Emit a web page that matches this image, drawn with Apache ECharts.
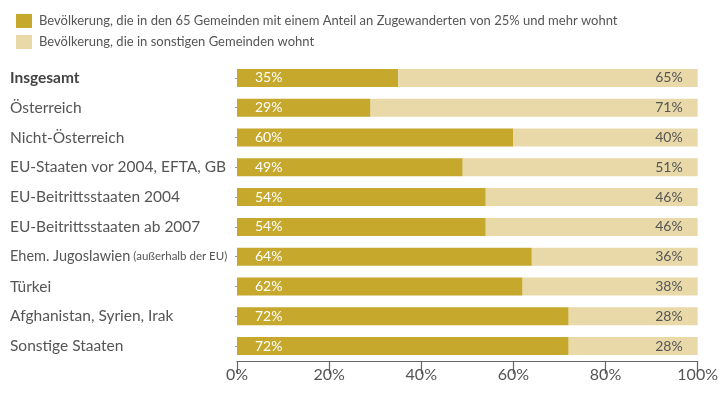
<!DOCTYPE html>
<html>
<head>
<meta charset="utf-8">
<script src="https://cdn.jsdelivr.net/npm/echarts@6/dist/echarts.min.js"></script>
<style>
html,body{margin:0;padding:0;background:#fff;}
#chart{width:721px;height:393px;}
</style>
</head>
<body>
<div id="chart"></div>
<script>
// Herkunftsgruppen (von oben nach unten)
const categories = [
  'Insgesamt',
  'Österreich',
  'Nicht-Österreich',
  'EU-Staaten vor 2004, EFTA, GB',
  'EU-Beitrittsstaaten 2004',
  'EU-Beitrittsstaaten ab 2007',
  'Ehem. Jugoslawien (außerhalb der EU)',
  'Türkei',
  'Afghanistan, Syrien, Irak',
  'Sonstige Staaten'
];
// Anteil in Gemeinden mit mind. 25 % Zugewanderten
const shareHigh = [35, 29, 60, 49, 54, 54, 64, 62, 72, 72];
// Anteil in sonstigen Gemeinden
const shareOther = [65, 71, 40, 51, 46, 46, 36, 38, 28, 28];
const xTicks = [0, 20, 40, 60, 80, 100];
const seriesNames = [
  'Bevölkerung, die in den 65 Gemeinden mit einem Anteil an Zugewanderten von 25% und mehr wohnt',
  'Bevölkerung, die in sonstigen Gemeinden wohnt'
];

const FONT = 'Lato, "Open Sans", sans-serif';
const DARK = '#C6A82C';
const LIGHT = '#E9D9A9';

const chart = echarts.init(document.getElementById('chart'), null, {renderer: 'canvas'});

function yLabel(value) {
  if (value === 'Insgesamt') return '{b|' + value + '}';
  const m = value.match(/^(.*?) (\(.*\))$/);
  if (m) return '{s|' + m[1] + '} {xs|' + m[2] + '}';
  return '{n|' + value + '}';
}

chart.setOption({
  animation: false,
  textStyle: {fontFamily: FONT},
  legend: {
    orient: 'vertical',
    left: 11,
    top: 9,
    itemWidth: 16,
    itemHeight: 14,
    itemGap: 7,
    icon: 'rect',
    data: seriesNames,
    textStyle: {fontFamily: FONT, fontSize: 13, color: '#555', padding: [0, 0, 0, 2]}
  },
  grid: {left: 237, right: 21, top: 63, bottom: 32},
  xAxis: {
    type: 'value',
    min: 0,
    max: 100,
    interval: 20,
    axisLine: {show: true, lineStyle: {color: '#666', width: 1.2}},
    axisTick: {show: true, length: 13, lineStyle: {color: '#666', width: 1.2}},
    splitLine: {show: false},
    axisLabel: {
      color: '#555',
      fontSize: 16,
      fontFamily: FONT,
      margin: 6,
      formatter: v => xTicks.includes(v) ? v + '%' : ''
    }
  },
  yAxis: {
    type: 'category',
    inverse: true,
    data: categories,
    axisLine: {show: false},
    axisTick: {show: true, length: 2, alignWithLabel: true, lineStyle: {color: '#999'}},
    axisLabel: {
      align: 'left',
      margin: 227,
      formatter: yLabel,
      rich: {
        b: {fontFamily: FONT, fontSize: 15.5, fontWeight: 'bold', color: '#444'},
        n: {fontFamily: FONT, fontSize: 15.5, color: '#555'},
        s: {fontFamily: FONT, fontSize: 14.5, color: '#555'},
        xs: {fontFamily: FONT, fontSize: 11.5, color: '#555'}
      }
    }
  },
  series: [
    {
      name: seriesNames[0],
      type: 'bar',
      stack: 'total',
      data: shareHigh,
      barWidth: 18,
      itemStyle: {color: DARK},
      label: {
        show: true,
        position: 'insideLeft',
        offset: [13, 0],
        color: '#fff',
        fontSize: 14,
        fontFamily: FONT,
        formatter: p => p.value + '%'
      }
    },
    {
      name: seriesNames[1],
      type: 'bar',
      stack: 'total',
      data: shareOther,
      barWidth: 18,
      itemStyle: {color: LIGHT},
      label: {
        show: true,
        position: 'insideRight',
        offset: [-10, 0],
        color: '#555',
        fontSize: 14,
        fontFamily: FONT,
        formatter: p => p.value + '%'
      }
    }
  ]
});
</script>
</body>
</html>
